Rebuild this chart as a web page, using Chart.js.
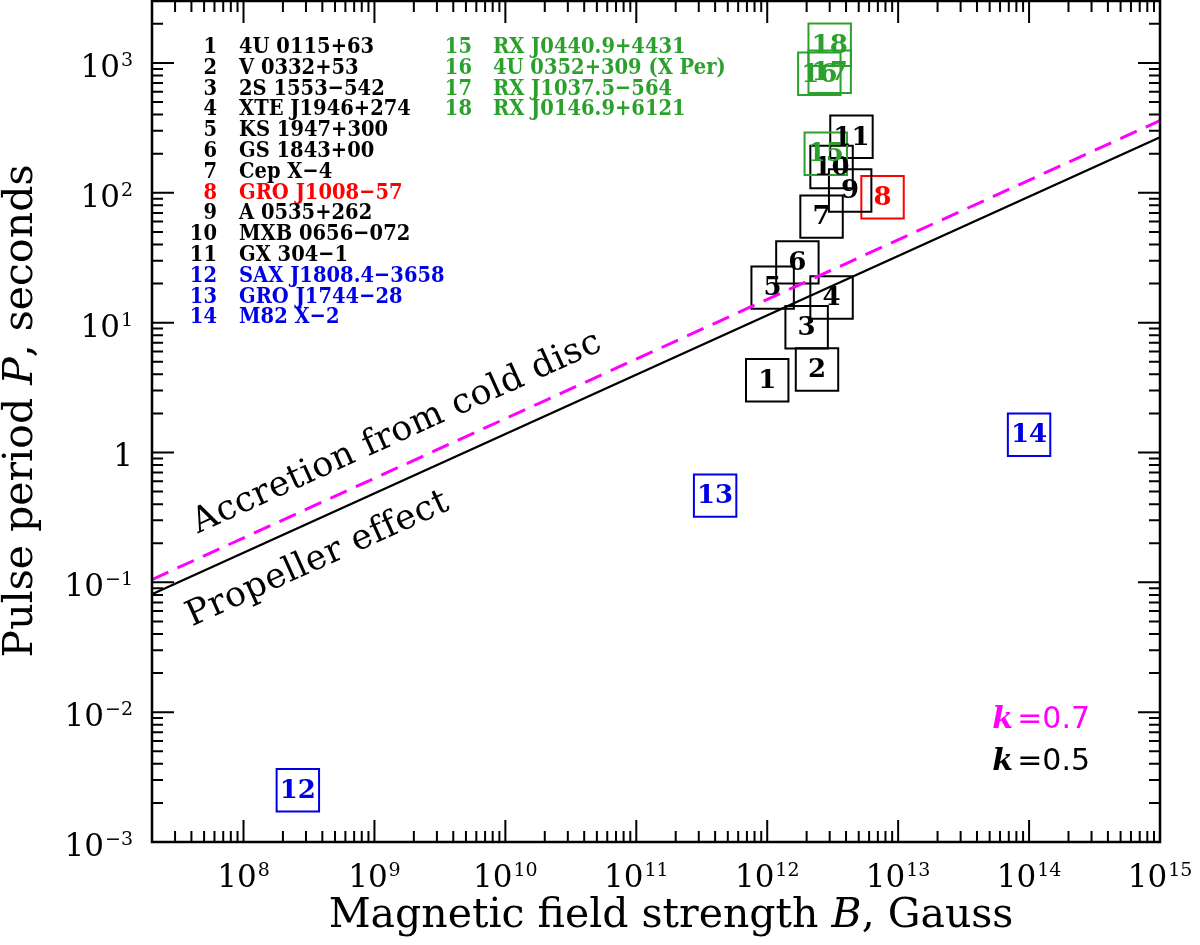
<!DOCTYPE html>
<html>
<head>
<meta charset="utf-8">
<title>Pulse period vs magnetic field</title>
<script src="https://cdn.jsdelivr.net/npm/chart.js@4.4.0/dist/chart.umd.min.js"></script>
<style>
  html, body { margin: 0; padding: 0; background: #fff; }
  #wrap { width: 1200px; height: 945px; position: relative; }
</style>
</head>
<body>
<div id="wrap"><canvas id="ppChart"></canvas></div>
<script>
// sources: number, name, colour group (0 black, 1 red, 2 blue, 3 green)
const srcIds = [1, 2, 3, 4, 5, 6, 7, 8, 9, 10, 11, 12, 13, 14, 15, 16, 17, 18];
const srcNames = [
  '4U 0115+63', 'V 0332+53', '2S 1553\u2212542', 'XTE J1946+274', 'KS 1947+300',
  'GS 1843+00', 'Cep X\u22124', 'GRO J1008\u221257', 'A 0535+262', 'MXB 0656\u2212072',
  'GX 304\u22121', 'SAX J1808.4\u22123658', 'GRO J1744\u221228', 'M82 X\u22122',
  'RX J0440.9+4431', '4U 0352+309 (X Per)', 'RX J1037.5\u2212564', 'RX J0146.9+6121'
];
const srcGroup = [0, 0, 0, 0, 0, 0, 0, 1, 0, 0, 0, 2, 2, 2, 3, 3, 3, 3];
const fieldB = [1.0e12, 2.4e12, 2.0e12, 3.1e12, 1.1e12, 1.7e12, 2.6e12, 7.6e12, 4.3e12,
                3.1e12, 4.4e12, 2.6e8, 4.0e11, 1.0e14, 2.8e12, 2.5e12, 3.0e12, 3.0e12];
const periodP = [3.6, 4.35, 9.2, 15.6, 18.6, 29.1, 65.5, 92.5, 104,
                 158, 270, 0.0025, 0.465, 1.37, 200, 825, 855, 1380];

// boundary lines: k = 0.5 (propeller) and k = 0.7
const lineB = [2e7, 1e15];
const propellerP = [0.081, 268];
const coldDiscP = [0.105, 360];

const xRange = [2e7, 1e15];
const yRange = [1e-3, 3000];
const xTickExp = [8, 9, 10, 11, 12, 13, 14, 15];
const yTickExp = [-3, -2, -1, 0, 1, 2, 3];

const groupColors = ['#000000', '#ff0000', '#0000e6', '#2ca02c'];
const SERIF = '"DejaVu Serif"';

// P on a boundary line at field b (straight line in log-log)
function lineP(ps, b) {
  const t = (Math.log10(b) - Math.log10(lineB[0])) / (Math.log10(lineB[1]) - Math.log10(lineB[0]));
  return Math.pow(10, Math.log10(ps[0]) + t * (Math.log10(ps[1]) - Math.log10(ps[0])));
}

// draw pieces of text [text, font] one after another, centred on x
function drawPieces(ctx, pieces, x, y) {
  let total = 0;
  pieces.forEach(p => { ctx.font = p[1]; total += ctx.measureText(p[0]).width; });
  let cx = x - total / 2;
  ctx.textAlign = 'left';
  pieces.forEach(p => {
    ctx.font = p[1];
    ctx.fillText(p[0], cx, y);
    cx += ctx.measureText(p[0]).width;
  });
}

function powLabel(ctx, e, x, yBase, align) {
  const main = '31px ' + SERIF, sup = '19px ' + SERIF;
  ctx.textAlign = 'left';
  if (e === 0) {
    ctx.font = main;
    const w = ctx.measureText('1').width;
    ctx.fillText('1', align === 'center' ? x - w / 2 : x - w, yBase);
    return;
  }
  const s = e < 0 ? '\u2212' + (-e) : String(e);
  ctx.font = main; const w1 = ctx.measureText('10').width;
  ctx.font = sup; const w2 = ctx.measureText(s).width;
  const total = w1 + 1 + w2;
  const left = align === 'center' ? x - total / 2 : x - total;
  ctx.font = main; ctx.fillText('10', left, yBase);
  ctx.font = sup; ctx.fillText(s, left + w1 + 1, yBase - 11);
}

// text stretched a little in height, like the plotting package font
function tallText(ctx, txt, x, y) {
  ctx.save();
  ctx.translate(x, y);
  ctx.scale(1, 1.15);
  ctx.fillText(txt, 0, 0);
  ctx.restore();
}

const decor = {
  id: 'decor',
  afterDraw(chart) {
    const { ctx, chartArea: a, scales: { x, y } } = chart;
    ctx.save();
    ctx.fillStyle = '#000';
    ctx.strokeStyle = '#000';
    ctx.lineWidth = 2;

    // inward ticks on all four sides
    ctx.beginPath();
    for (let e = 7; e <= 15; e++) {
      for (let m = 1; m <= 9; m++) {
        const v = m * Math.pow(10, e);
        if (v < x.min * 0.999 || v > x.max * 1.001) continue;
        const px = x.getPixelForValue(v), len = m === 1 ? 22 : 11;
        ctx.moveTo(px, a.bottom); ctx.lineTo(px, a.bottom - len);
        ctx.moveTo(px, a.top); ctx.lineTo(px, a.top + len);
      }
    }
    for (let e = -3; e <= 3; e++) {
      for (let m = 1; m <= 9; m++) {
        const v = m * Math.pow(10, e);
        if (v < y.min * 0.999 || v > y.max * 0.999) continue;
        const py = y.getPixelForValue(v), len = m === 1 ? 22 : 11;
        ctx.moveTo(a.left, py); ctx.lineTo(a.left + len, py);
        ctx.moveTo(a.right, py); ctx.lineTo(a.right - len, py);
      }
    }
    ctx.stroke();
    ctx.lineWidth = 2.5;
    ctx.strokeRect(a.left, a.top, a.right - a.left, a.bottom - a.top);

    // tick labels
    ctx.textBaseline = 'alphabetic';
    xTickExp.forEach(e => powLabel(ctx, e, x.getPixelForValue(Math.pow(10, e)), a.bottom + 45, 'center'));
    yTickExp.forEach(e => powLabel(ctx, e, a.left - 19, y.getPixelForValue(Math.pow(10, e)) + 14, 'right'));

    // axis titles
    drawPieces(ctx, [['Magnetic field strength ', '41px ' + SERIF], ['B', 'italic 41px ' + SERIF],
                     [', Gauss', '41px ' + SERIF]], 671, a.bottom + 85);
    ctx.save();
    ctx.translate(32, 411);
    ctx.rotate(-Math.PI / 2);
    drawPieces(ctx, [['Pulse period ', '41px ' + SERIF], ['P', 'italic 41px ' + SERIF],
                     [', seconds', '41px ' + SERIF]], 0, 0);
    ctx.restore();

    // labels along the boundary lines
    const ang = Math.atan2(y.getPixelForValue(propellerP[1]) - y.getPixelForValue(propellerP[0]),
                           x.getPixelForValue(lineB[1]) - x.getPixelForValue(lineB[0]));
    ctx.font = '35px ' + SERIF;
    ctx.textAlign = 'left';
    ctx.save();
    ctx.translate(x.getPixelForValue(5.3e7), y.getPixelForValue(lineP(coldDiscP, 5.3e7)));
    ctx.rotate(ang);
    ctx.letterSpacing = '0.5px';
    ctx.fillText('Accretion from cold disc', 0, -23);
    ctx.restore();
    ctx.save();
    ctx.translate(x.getPixelForValue(2.9e7), y.getPixelForValue(lineP(propellerP, 2.9e7)));
    ctx.rotate(ang);
    ctx.letterSpacing = '0.5px';
    ctx.fillText('Propeller effect', 0, 46);
    ctx.restore();

    // k labels
    [['0.7', '#ff00ff', a.bottom - 114], ['0.5', '#000', a.bottom - 72]].forEach(r => {
      ctx.fillStyle = r[1];
      ctx.textAlign = 'right';
      ctx.font = '30px "DejaVu Sans"';
      ctx.fillText('=' + r[0], a.right - 70, r[2]);
      ctx.font = 'italic bold 30px ' + SERIF;
      ctx.fillText('k', a.right - 147, r[2]);
    });

    // numbers inside the boxes
    ctx.textAlign = 'center';
    ctx.textBaseline = 'middle';
    ctx.font = 'bold 26px ' + SERIF;
    srcIds.forEach((id, i) => {
      ctx.fillStyle = groupColors[srcGroup[i]];
      ctx.fillText(String(id), x.getPixelForValue(fieldB[i]), y.getPixelForValue(periodP[i]) + 1);
    });

    // source list
    ctx.textBaseline = 'alphabetic';
    ctx.font = 'bold 19.5px ' + SERIF;
    srcIds.forEach((id, i) => {
      const col = i < 14 ? 0 : 1;
      const row = i < 14 ? i : i - 14;
      const yb = 53 + row * 20.8;
      ctx.fillStyle = groupColors[srcGroup[i]];
      ctx.textAlign = 'right';
      tallText(ctx, String(id), a.left + (col ? 320 : 65), yb);
      ctx.textAlign = 'left';
      tallText(ctx, srcNames[i], a.left + (col ? 341 : 87), yb);
    });
    ctx.restore();
  }
};

const ctx = document.getElementById('ppChart').getContext('2d');

new Chart(ctx, {
  data: {
    datasets: [
      {
        type: 'line',
        label: 'k=0.5',
        data: lineB.map((b, i) => ({ x: b, y: propellerP[i] })),
        borderColor: '#000',
        borderWidth: 2.2,
        pointRadius: 0
      },
      {
        type: 'line',
        label: 'k=0.7',
        data: lineB.map((b, i) => ({ x: b, y: coldDiscP[i] })),
        borderColor: '#ff00ff',
        borderWidth: 3,
        borderDash: [18, 10],
        pointRadius: 0
      },
      {
        type: 'scatter',
        label: 'sources',
        data: fieldB.map((b, i) => ({ x: b, y: periodP[i] })),
        pointStyle: 'rect',
        pointRadius: 30,
        pointBorderWidth: 2,
        pointBackgroundColor: 'rgba(0,0,0,0)',
        pointBorderColor: srcGroup.map(g => groupColors[g]),
        clip: false
      }
    ]
  },
  options: {
    responsive: true,
    maintainAspectRatio: false,
    animation: false,
    events: [],
    layout: { autoPadding: false, padding: { left: 152, right: 40, top: 1, bottom: 103 } },
    plugins: {
      legend: { display: false },
      tooltip: { enabled: false }
    },
    scales: {
      x: { type: 'logarithmic', min: xRange[0], max: xRange[1], display: false },
      y: { type: 'logarithmic', min: yRange[0], max: yRange[1], display: false }
    }
  },
  plugins: [decor]
});
</script>
</body>
</html>
